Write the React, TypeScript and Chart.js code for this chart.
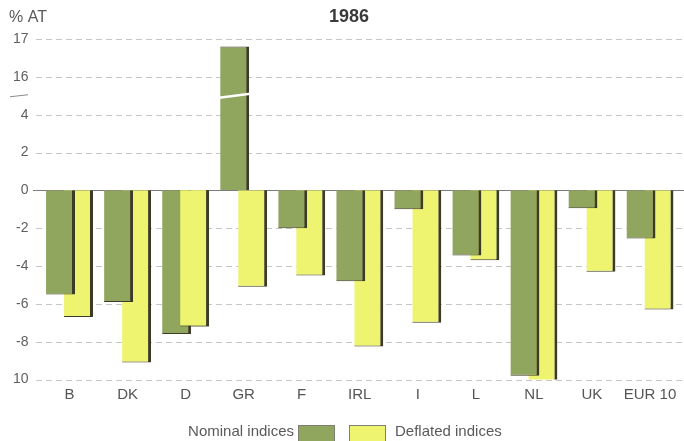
import React, { useEffect, useRef } from "react";
import { Chart, registerables } from "chart.js";

Chart.register(...registerables);

// ---- data ----
const categories = ["B", "DK", "D", "GR", "F", "IRL", "I", "L", "NL", "UK", "EUR 10"];
const nominal = [-5.5, -5.9, -7.6, 16.8, -2.0, -4.8, -1.0, -3.45, -9.8, -0.95, -2.55];
const deflated = [-6.7, -9.1, -7.2, -5.1, -4.5, -8.25, -7.0, -3.7, -10.1, -4.3, -6.3];
const seriesNames = ["Nominal indices", "Deflated indices"];
// positions on the (broken) drawing axis and the labels shown there
const tickPositions = [-10, -8, -6, -4, -2, 0, 2, 4, 6, 8];
const tickLabels = ["10", "-8", "-6", "-4", "-2", "0", "2", "4", "16", "17"];
const titleText = "1986";
const unitText = "% AT";

// axis break: values 4..16 are squeezed into one tick step, above 16 one unit = one step
const BREAK_HIGH = 16;
const BREAK_POS = 5; // drawing position of the break mark
function toAxis(v: number): number {
  if (v >= BREAK_HIGH) return 6 + (v - BREAK_HIGH) * 2;
  return v;
}

const GREEN = "#90a55e";
const YELLOW = "#eef46f";
const EDGE = "#3c3b28";
const FONT = "'Liberation Sans', Arial, Helvetica, sans-serif";

const decor = {
  id: "decor",
  beforeDatasetsDraw(chart: any) {
    const { ctx, scales } = chart;
    const y = scales.y;
    ctx.save();
    tickPositions.forEach((v) => {
      const py = Math.round(y.getPixelForValue(v)) + 0.5;
      ctx.beginPath();
      if (v === 0) {
        ctx.setLineDash([]);
        ctx.strokeStyle = "#7c7c7c";
        ctx.lineWidth = 1;
        ctx.moveTo(33, py);
      } else {
        ctx.setLineDash([6, 4]);
        ctx.strokeStyle = "#c6c6c6";
        ctx.lineWidth = 1;
        ctx.moveTo(36, py);
      }
      ctx.lineTo(684, py);
      ctx.stroke();
    });
    ctx.restore();
  },
  afterDatasetsDraw(chart: any) {
    const { ctx, scales } = chart;
    const y = scales.y;
    const m0 = chart.getDatasetMeta(0);
    const m1 = chart.getDatasetMeta(1);
    // the shorter bar of a pair stands in front
    nominal.forEach((n, i) => {
      const d = deflated[i];
      if (n < 0 && d < 0 && d > n) m1.data[i].draw(ctx);
    });
    // break gap on bars that run past the break
    const yb = y.getPixelForValue(BREAK_POS);
    ctx.save();
    nominal.forEach((n, i) => {
      if (n > BREAK_HIGH) {
        const el = m0.data[i];
        const l = el.x - el.width / 2 - 1;
        const r = el.x + el.width / 2 + 1;
        ctx.strokeStyle = "#ffffff";
        ctx.lineWidth = 2.5;
        ctx.beginPath();
        ctx.moveTo(l, yb + 2);
        ctx.lineTo(r, yb - 2);
        ctx.stroke();
      }
    });
    ctx.restore();
  },
  afterDraw(chart: any) {
    const { ctx, scales } = chart;
    const y = scales.y;
    ctx.save();
    // title
    ctx.fillStyle = "#3a3a3a";
    ctx.font = `bold 18px ${FONT}`;
    ctx.textAlign = "center";
    ctx.textBaseline = "middle";
    ctx.fillText(titleText, 349, 17);
    // unit
    ctx.fillStyle = "#5a5a5a";
    ctx.font = `16px ${FONT}`;
    ctx.textAlign = "left";
    ctx.fillText(unitText, 9, 18);
    // axis break mark
    const yb = y.getPixelForValue(BREAK_POS);
    ctx.strokeStyle = "#8a8a8a";
    ctx.lineWidth = 1;
    ctx.beginPath();
    ctx.moveTo(10, yb + 1);
    ctx.lineTo(28, yb - 1);
    ctx.stroke();
    // legend
    const ds = chart.data.datasets;
    ctx.font = `15px ${FONT}`;
    ctx.fillStyle = "#5a5a5a";
    ctx.textBaseline = "middle";
    ctx.textAlign = "right";
    ctx.fillText(ds[0].label, 294, 432);
    ctx.textAlign = "left";
    ctx.fillText(ds[1].label, 395, 432);
    const boxes = [
      [298, ds[0].backgroundColor],
      [349, ds[1].backgroundColor],
    ];
    boxes.forEach(([bx, col]: any) => {
      ctx.fillStyle = col;
      ctx.fillRect(bx, 425, 37, 17);
      ctx.strokeStyle = "#7d8070";
      ctx.lineWidth = 1;
      ctx.strokeRect(bx + 0.5, 425.5, 36, 17);
    });
    ctx.restore();
  },
};

export default function App() {
  const ref = useRef<HTMLCanvasElement | null>(null);
  useEffect(() => {
    if (!ref.current) return;
    const chart = new Chart(ref.current, {
      type: "bar",
      data: {
        labels: categories,
        datasets: [
          {
            label: seriesNames[0],
            data: nominal.map(toAxis),
            backgroundColor: GREEN,
            borderColor: EDGE,
            borderWidth: { top: 1, right: 3, bottom: 1, left: 0 },
            borderSkipped: "start",
          },
          {
            label: seriesNames[1],
            data: deflated.map(toAxis),
            backgroundColor: YELLOW,
            borderColor: EDGE,
            borderWidth: { top: 1, right: 3, bottom: 1, left: 0 },
            borderSkipped: "start",
          },
        ],
      },
      options: {
        responsive: false,
        animation: false,
        events: [],
        categoryPercentage: 0.62,
        barPercentage: 1.61,
        layout: { padding: { top: 39, right: 5, bottom: 0, left: 0 } },
        plugins: {
          legend: { display: false },
          tooltip: { enabled: false },
          title: { display: false },
        },
        scales: {
          x: {
            grid: { display: false, drawTicks: false },
            border: { display: false },
            ticks: {
              color: "#555555",
              font: { family: FONT, size: 15 },
              padding: 6,
              maxRotation: 0,
              autoSkip: false,
            },
            afterFit: (s: any) => {
              s.height = 61.5;
            },
          },
          y: {
            min: -10,
            max: 8,
            grid: { display: false, drawTicks: false },
            border: { display: false },
            afterBuildTicks: (s: any) => {
              s.ticks = tickPositions.map((v) => ({ value: v }));
            },
            ticks: {
              color: "#5f5f5f",
              font: { family: FONT, size: 14 },
              padding: 12,
              callback: (v: any) => {
                const k = tickPositions.indexOf(Number(v));
                return k >= 0 ? tickLabels[k] : "";
              },
            },
            afterFit: (s: any) => {
              s.width = 40.5;
            },
          },
        },
      },
      plugins: [decor],
    });
    return () => chart.destroy();
  }, []);
  return (
    <div style={{ position: "fixed", left: 0, top: 0, width: 684, height: 441, background: "#fff" }}>
      <canvas ref={ref} width={684} height={441} style={{ display: "block" }} />
    </div>
  );
}
